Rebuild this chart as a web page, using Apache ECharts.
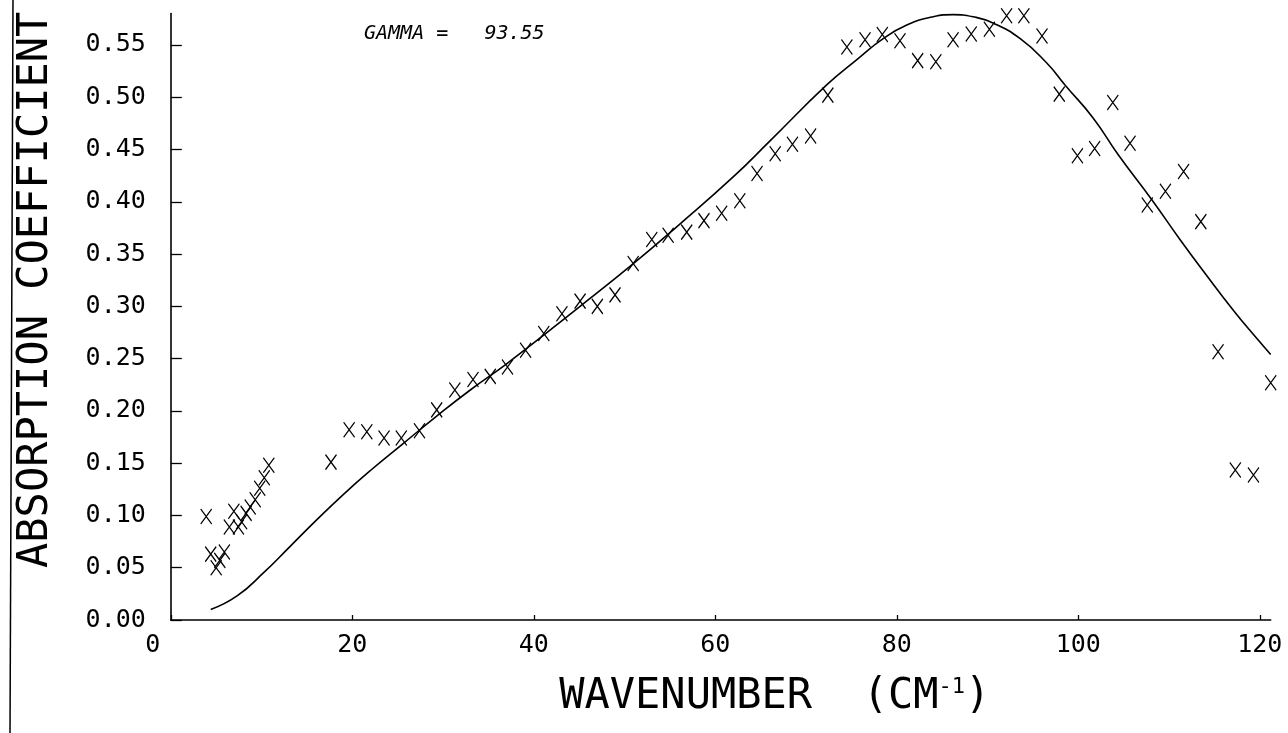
<!DOCTYPE html>
<html>
<head>
<meta charset="utf-8">
<script src="https://cdn.jsdelivr.net/npm/echarts@6/dist/echarts.min.js"></script>
<style>
html,body{margin:0;padding:0;background:#fff;}
#c{width:1288px;height:733px;}
</style>
</head>
<body>
<div id="c"></div>
<script>
// ---- data ----
const xTicks = [0, 20, 40, 60, 80, 100, 120];
const yTicks = [0, 0.05, 0.10, 0.15, 0.20, 0.25, 0.30, 0.35, 0.40, 0.45, 0.50, 0.55];

const pointX = [3.9, 4.4, 5.0, 5.4, 5.9, 6.45, 6.95, 7.45, 7.8, 8.3, 8.75, 9.3, 9.8, 10.3, 10.8,
  17.65, 19.65, 21.6, 23.5, 25.4, 27.4, 29.3, 31.3, 33.3, 35.2, 37.1, 39.1, 41.1, 43.1, 45.1,
  47.0, 48.95, 50.95, 53.0, 54.8, 56.85, 58.75, 60.7, 62.7, 64.6, 66.6, 68.5, 70.5, 72.4,
  74.5, 76.5, 78.4, 80.35, 82.3, 84.3, 86.2, 88.2, 90.2, 92.1, 94.0, 96.0, 97.9, 99.9,
  101.8, 103.8, 105.7, 107.6, 109.6, 111.6, 113.5, 115.4, 117.3, 119.3, 121.2];
const pointY = [0.099, 0.063, 0.050, 0.057, 0.065, 0.089, 0.104, 0.089, 0.094, 0.102, 0.108, 0.115, 0.126, 0.136, 0.148,
  0.151, 0.182, 0.180, 0.174, 0.174, 0.181, 0.201, 0.220, 0.230, 0.233, 0.242, 0.258, 0.274, 0.293, 0.305,
  0.300, 0.311, 0.341, 0.364, 0.368, 0.371, 0.382, 0.389, 0.401, 0.427, 0.446, 0.455, 0.463, 0.502,
  0.548, 0.555, 0.560, 0.554, 0.535, 0.534, 0.555, 0.5605, 0.565, 0.578, 0.578, 0.5586, 0.503, 0.444,
  0.451, 0.495, 0.456, 0.397, 0.410, 0.429, 0.381, 0.2566, 0.1435, 0.1387, 0.227];

const curveX = [4.4, 7.3, 10.2, 13.1, 16.1, 19.0, 22.0, 25.5, 29.3, 33.0, 37.0, 45.1, 51.0, 56.0, 62.0, 66.0,
  72.3, 75.6, 78.5, 81.1, 84.0, 86.2, 88.4, 90.6, 93.6, 96.5, 98.6, 101.65, 104.4, 108.1, 111.2, 114.1,
  117.1, 119.3, 121.2];
const curveY = [0.010, 0.023, 0.045, 0.070, 0.096, 0.120, 0.143, 0.168, 0.195, 0.220, 0.245, 0.300, 0.341, 0.378, 0.424, 0.458,
  0.512, 0.536, 0.556, 0.569, 0.577, 0.579, 0.577, 0.571, 0.556, 0.533, 0.511, 0.480, 0.445, 0.402, 0.364, 0.330,
  0.296, 0.273, 0.254];

const xName = 'WAVENUMBER  (CM';
const xNameSup = '-1';
const yName = 'ABSORPTION COEFFICIENT';
const gammaText = 'GAMMA =   93.55';

// ---- chart ----
const MONO = '"DejaVu Sans Mono", monospace';
const chart = echarts.init(document.getElementById('c'), null, {renderer: 'canvas'});

const pts = pointX.map((x, i) => [x, pointY[i]]);
const curve = curveX.map((x, i) => [x, curveY[i]]);

chart.setOption({
  animation: false,
  backgroundColor: '#fff',
  title: {
    text: gammaText,
    left: 364, top: 24, padding: 0,
    textStyle: {fontFamily: MONO, fontStyle: 'italic', fontWeight: 'normal', fontSize: 20, color: '#000'}
  },
  grid: {left: 170.8, right: 17.3, top: 13.6, bottom: 113, containLabel: false},
  xAxis: {
    type: 'value', min: 0, max: 121.2,
    name: '{a|' + xName + '}{s|' + xNameSup + '}{a|)}',
    nameLocation: 'middle', nameGap: 56,
    nameTextStyle: {
      padding: [0, 0, 0, 108],
      rich: {
        a: {fontFamily: MONO, fontSize: 42, color: '#000'},
        s: {fontFamily: MONO, fontSize: 22, color: '#000', verticalAlign: 'top'}
      }
    },
    splitLine: {show: false},
    axisLine: {show: true, onZero: false, lineStyle: {color: '#000', width: 1.6}},
    axisTick: {show: true, inside: true, length: 5, customValues: xTicks, lineStyle: {color: '#000', width: 1.3}},
    axisLabel: {
      customValues: xTicks, margin: 13, fontFamily: MONO, fontSize: 25, color: '#000',
      formatter: v => v === 0 ? '{z|0}' : String(v),
      rich: {z: {fontFamily: MONO, fontSize: 25, color: '#000', padding: [0, 36, 0, 0]}}
    }
  },
  yAxis: {
    type: 'value', min: 0, max: 0.58,
    name: yName, nameLocation: 'middle', nameRotate: 90, nameGap: 114,
    nameTextStyle: {fontFamily: MONO, fontSize: 42, color: '#000', padding: [0, 0, 0, 54]},
    splitLine: {show: false},
    axisLine: {show: true, onZero: false, lineStyle: {color: '#000', width: 1.6}},
    axisTick: {show: true, inside: true, length: 11, customValues: yTicks, lineStyle: {color: '#000', width: 1.3}},
    axisLabel: {
      customValues: yTicks, margin: 25, fontFamily: MONO, fontSize: 25, color: '#000',
      formatter: v => v.toFixed(2)
    }
  },
  graphic: [{
    type: 'line', silent: true,
    shape: {x1: 13, y1: 0, x2: 10, y2: 733},
    style: {stroke: '#000', lineWidth: 1.5}
  }],
  series: [
    {
      type: 'line', data: curve, smooth: 0.5, showSymbol: false, symbol: 'none',
      lineStyle: {color: '#000', width: 1.6}, silent: true
    },
    {
      type: 'scatter', data: pts,
      symbol: 'path://M0,0L10,14M10,0L0,14', symbolSize: [11, 15], symbolKeepAspect: false,
      itemStyle: {color: 'rgba(0,0,0,0)', borderColor: '#000', borderWidth: 1.3, opacity: 1},
      silent: true
    }
  ]
});
</script>
</body>
</html>
